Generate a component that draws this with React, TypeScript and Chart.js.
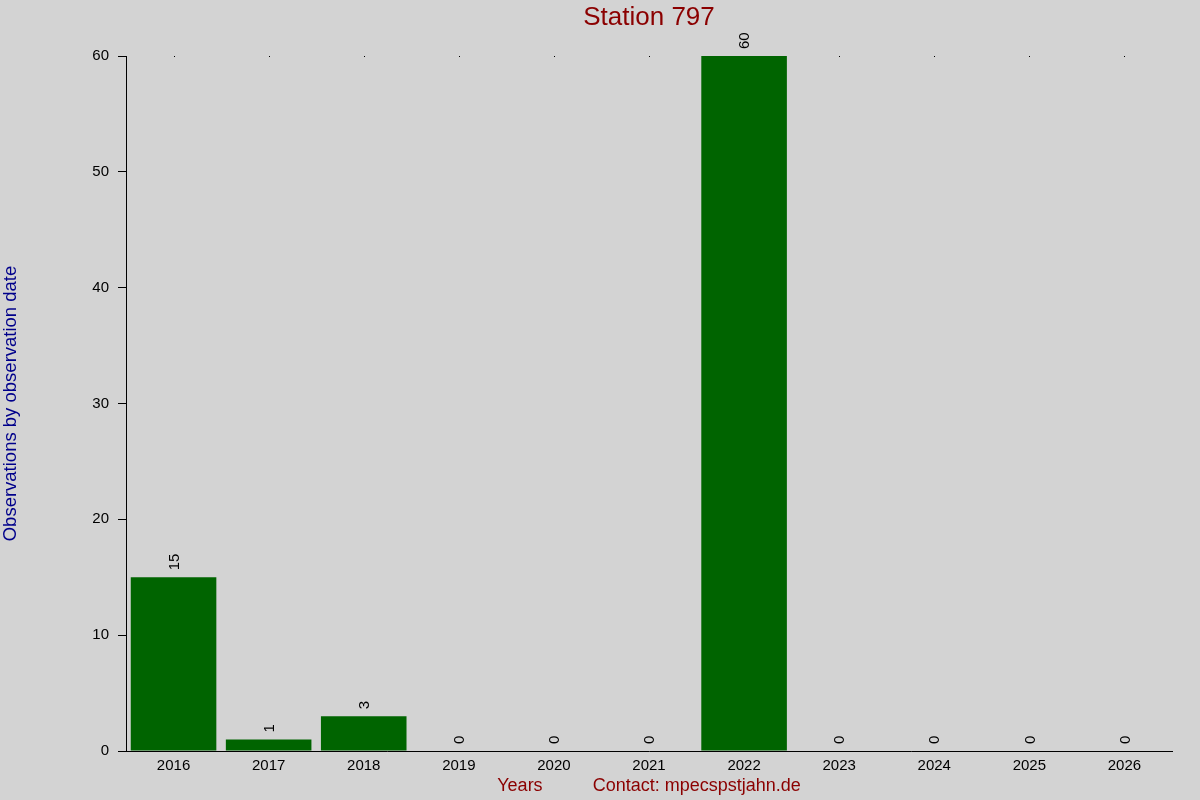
import { useEffect, useRef } from 'react'
import { Chart, registerables } from 'chart.js'
import type { Plugin } from 'chart.js'

Chart.register(...registerables)

const years = ['2016', '2017', '2018', '2019', '2020', '2021', '2022', '2023', '2024', '2025', '2026']
const observations = [15, 1, 3, 0, 0, 0, 60, 0, 0, 0, 0]
const yTicks = [0, 10, 20, 30, 40, 50, 60]
const chartTitle = 'Station 797'

const FONT = '"Liberation Sans", Arial, sans-serif'

const backgroundPlugin: Plugin<'bar'> = {
  id: 'lightgrayBackground',
  beforeDraw(chart) {
    const { ctx, width, height } = chart
    ctx.save()
    ctx.fillStyle = '#d3d3d3'
    ctx.fillRect(0, 0, width, height)
    ctx.restore()
  },
  beforeDatasetsDraw(chart) {
    // small dots along the top edge at each category, under the bars
    const { ctx, chartArea } = chart
    const xScale = chart.scales.x
    ctx.save()
    ctx.fillStyle = '#000000'
    years.forEach((_, i) => {
      const x = Math.round(xScale.getPixelForValue(i))
      ctx.fillRect(x, chartArea.top, 1, 1)
    })
    ctx.restore()
  },
}

const titlePlugin: Plugin<'bar'> = {
  id: 'plotTitle',
  afterDraw(chart) {
    const { ctx, chartArea } = chart
    ctx.save()
    ctx.font = `26px ${FONT}`
    ctx.fillStyle = '#8b0000'
    ctx.textAlign = 'center'
    ctx.textBaseline = 'middle'
    ctx.fillText(chartTitle, (chartArea.left + chartArea.right) / 2, 18)
    ctx.restore()
  },
}

const valueLabelPlugin: Plugin<'bar'> = {
  id: 'valueLabels',
  afterDatasetsDraw(chart) {
    const { ctx } = chart
    const meta = chart.getDatasetMeta(0)
    ctx.save()
    ctx.font = `15px ${FONT}`
    ctx.fillStyle = '#000000'
    ctx.textAlign = 'left'
    ctx.textBaseline = 'middle'
    meta.data.forEach((bar, i) => {
      ctx.save()
      ctx.translate(bar.x + 1, bar.y - 7)
      ctx.rotate(-Math.PI / 2)
      ctx.fillText(String(observations[i]), 0, 0)
      ctx.restore()
    })
    ctx.restore()
  },
}

export default function App() {
  const canvasRef = useRef<HTMLCanvasElement>(null)
  const chartRef = useRef<Chart<'bar'> | null>(null)

  useEffect(() => {
    document.body.style.margin = '0'
    if (!canvasRef.current) return
    const ctx = canvasRef.current.getContext('2d')
    if (!ctx) return

    chartRef.current = new Chart(ctx, {
      type: 'bar',
      data: {
        labels: years,
        datasets: [
          {
            label: 'Observations',
            data: observations,
            backgroundColor: '#006400',
            borderWidth: 0,
            barPercentage: 0.9,
            categoryPercentage: 1,
          },
        ],
      },
      options: {
        responsive: false,
        maintainAspectRatio: false,
        animation: false,
        layout: {
          padding: { left: 0, right: 28, top: 56, bottom: 0 },
        },
        plugins: {
          legend: { display: false },
          tooltip: { enabled: false },
          title: { display: false },
        },
        scales: {
          x: {
            afterFit(scale) {
              scale.height = 49
            },
            grid: {
              display: true,
              drawOnChartArea: false,
              drawTicks: false,
            },
            border: { display: true, color: '#000000', width: 1 },
            ticks: {
              color: '#000000',
              padding: 6,
              font: { family: FONT, size: 15 },
            },
            title: {
              display: true,
              text: 'Years          Contact: mpecspstjahn.de',
              color: '#8b0000',
              font: { family: FONT, size: 18 },
              padding: { top: 0, bottom: 3 },
            },
          },
          y: {
            min: 0,
            max: 60,
            afterFit(scale) {
              scale.width = 126
            },
            afterBuildTicks(scale) {
              scale.ticks = yTicks.map((value) => ({ value }))
            },
            grid: {
              display: true,
              drawOnChartArea: false,
              drawTicks: true,
              tickLength: 8,
              color: '#000000',
            },
            border: { display: true, color: '#000000', width: 1 },
            ticks: {
              color: '#000000',
              padding: 9,
              font: { family: FONT, size: 15 },
            },
            title: {
              display: true,
              text: 'Observations by observation date',
              color: '#00008b',
              font: { family: FONT, size: 18.5 },
              padding: 0,
            },
          },
        },
      },
      plugins: [backgroundPlugin, valueLabelPlugin, titlePlugin],
    })

    return () => {
      if (chartRef.current) {
        chartRef.current.destroy()
        chartRef.current = null
      }
    }
  }, [])

  return (
    <div style={{ width: 1200, height: 800, background: '#d3d3d3' }}>
      <canvas ref={canvasRef} width={1200} height={800} style={{ display: 'block' }} />
    </div>
  )
}
